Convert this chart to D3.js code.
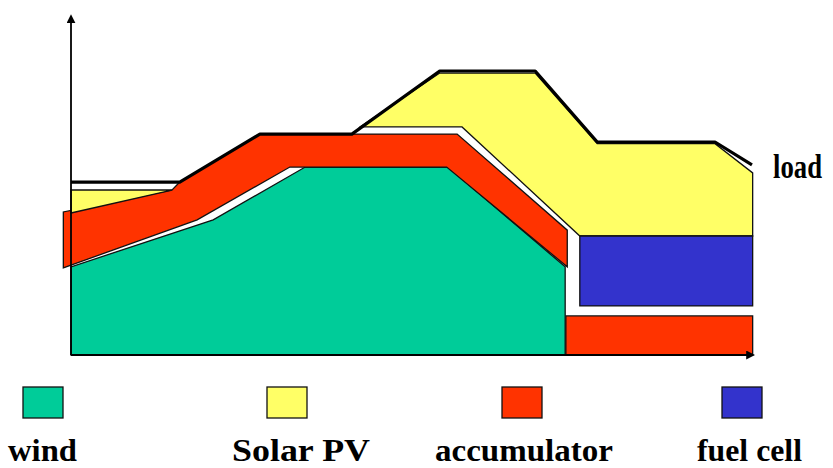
<!DOCTYPE html>
<html>
<head>
<meta charset="utf-8">
<script src="https://cdn.jsdelivr.net/npm/d3@7"></script>
<style>
  body { margin: 0; background: #fff; }
  svg { display: block; }
  .label { font-family: "Liberation Serif", "Times New Roman", serif; font-weight: bold; fill: #000; }
</style>
</head>
<body>
<svg id="chart"></svg>
<script>
// time (0..100) vs power (0..100), schematic units
const loadLine = [[0, 50.4], [15.6, 50.4], [27.1, 64.4], [40.3, 64.4], [52.9, 82.8],
                  [66.6, 82.8], [75.5, 62.1], [92.4, 62.1], [97.7, 55.4]];

const windArea = [[0, 0], [0, 25.7], [20.4, 39.4], [33.6, 54.8], [54.1, 54.8],
                  [70.9, 25.7], [70.9, 0]];

const accumulatorBand = [[-1.1, 25.4], [18.1, 39.4], [31.4, 54.8], [53.9, 54.8], [71.2, 25.7],
                         [71.2, 36.4], [55.4, 64.4], [27.1, 64.4], [15.6, 50.4], [14.5, 48.1], [-1.1, 41.7]];
const accumulatorLow = [[71.0, 0], [71.0, 11.4], [97.8, 11.4], [97.8, 0]];

const solarSmall = [[0, 41.4], [14.5, 48.1], [0, 48.1]];
const solarMain = [[41.5, 66.5], [52.9, 82.2], [66.6, 82.2], [75.5, 61.6], [92.4, 61.6],
                   [97.8, 53.1], [97.8, 34.7], [73.0, 34.7], [56.1, 66.5]];

const fuelCell = [[73.0, 14.3], [73.0, 34.7], [97.8, 34.7], [97.8, 14.3]];

const legendNames = ["wind", "Solar PV", "accumulator", "fuel cell"];
const legendColors = ["#00CC99", "#FFFF66", "#FF3300", "#3333CC"];

const width = 833, height = 468;
const svg = d3.select("#chart").attr("width", width).attr("height", height);

const x = d3.scaleLinear().domain([0, 100]).range([71, 768]);
const y = d3.scaleLinear().domain([0, 100]).range([355, 12]);

const poly = d3.line().x(d => x(d[0])).y(d => y(d[1]));
function area(pts, color) {
    svg.append("path")
        .attr("d", poly(pts) + "Z")
        .attr("fill", color)
        .attr("stroke", "#111")
        .attr("stroke-width", 1.3)
        .attr("stroke-linejoin", "miter");
}

area(windArea, legendColors[0]);
area(accumulatorBand, legendColors[2]);
area(accumulatorLow, legendColors[2]);
area(solarSmall, legendColors[1]);
area(solarMain, legendColors[1]);
area(fuelCell, legendColors[3]);

// load curve
svg.append("path")
    .attr("d", poly(loadLine))
    .attr("fill", "none")
    .attr("stroke", "#000")
    .attr("stroke-width", 3.2)
    .attr("stroke-linejoin", "round");

// axes with arrows
svg.append("defs").append("marker")
    .attr("id", "arrow")
    .attr("viewBox", "0 0 10 10")
    .attr("refX", 1).attr("refY", 5)
    .attr("markerWidth", 5).attr("markerHeight", 5)
    .attr("orient", "auto")
    .append("path").attr("d", "M0,0L10,5L0,10Z").attr("fill", "#000");

svg.append("line")
    .attr("x1", x(0)).attr("y1", y(0))
    .attr("x2", x(0)).attr("y2", y(97))
    .attr("stroke", "#000").attr("stroke-width", 1.8)
    .attr("marker-end", "url(#arrow)");
svg.append("line")
    .attr("x1", x(0)).attr("y1", y(0))
    .attr("x2", x(97)).attr("y2", y(0))
    .attr("stroke", "#000").attr("stroke-width", 1.8)
    .attr("marker-end", "url(#arrow)");

svg.append("text")
    .attr("class", "label")
    .attr("x", 773).attr("y", 178)
    .attr("font-size", 33)
    .attr("textLength", 49).attr("lengthAdjust", "spacingAndGlyphs")
    .text("load");

// legend
const boxX = [23, 267, 502, 722];
const textX = [8, 232, 435, 697];
const textW = [69, 138, 178, 105];

legendNames.forEach((name, i) => {
    svg.append("rect")
        .attr("x", boxX[i]).attr("y", 387)
        .attr("width", 40).attr("height", 31)
        .attr("fill", legendColors[i])
        .attr("stroke", "#111").attr("stroke-width", 1.3);
    svg.append("text")
        .attr("class", "label")
        .attr("x", textX[i]).attr("y", 461)
        .attr("font-size", 32)
        .attr("textLength", textW[i]).attr("lengthAdjust", "spacingAndGlyphs")
        .text(name);
});
</script>
</body>
</html>
